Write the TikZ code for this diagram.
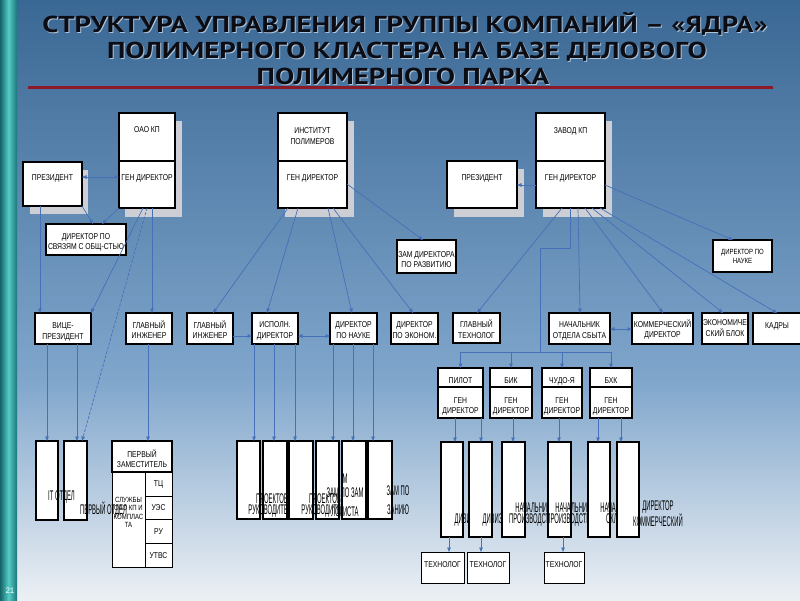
\documentclass[tikz,border=0pt]{standalone}
\usepackage{fontspec}
\setmainfont{Liberation Sans}
\newfontfamily\boxfnt[FakeStretch=0.8]{Liberation Sans}
\newfontfamily\tallfnt[FakeStretch=0.42]{Liberation Sans}
\newfontfamily\titlefnt{PT Sans}
\usetikzlibrary{arrows.meta,calc}
\definecolor{connc}{RGB}{70,112,185}
\definecolor{bgA}{RGB}{58,104,148}
\definecolor{bgB}{RGB}{128,166,204}
\definecolor{bgC}{RGB}{236,240,244}
\definecolor{barL}{RGB}{20,100,105}
\definecolor{barM}{RGB}{85,205,198}
\definecolor{barR}{RGB}{25,118,122}
\definecolor{redline}{RGB}{140,25,40}
\definecolor{shadc}{RGB}{205,207,212}
\definecolor{ttlc}{RGB}{12,12,20}
\definecolor{ttls}{RGB}{175,195,215}
\newcommand\tx[2]{\makebox[0pt]{\raisebox{#1}[0pt][0pt]{\begin{tabular}{@{}c@{}}#2\end{tabular}}}}
\begin{document}
\begin{tikzpicture}[x=1pt,y=-1pt,
  box/.style={draw=black,line width=1.3pt,fill=white,inner sep=0pt,outer sep=0pt,
    font=\boxfnt\fontsize{8.5}{10.5}\selectfont},
  sz/.style 2 args={minimum width=#1pt,minimum height=#2pt},
  tall/.style={draw=black,line width=1.3pt,fill=white,inner sep=0pt,outer sep=0pt},
  talltxt/.style={inner sep=0pt,align=center,font=\tallfnt\fontsize{14}{11}\selectfont},
  shad/.style={fill=shadc},
  conn/.style={draw=connc,line width=0.7pt},
  arr/.style={conn,-{Triangle[length=4.5pt,width=3.5pt]}},
  darr/.style={conn,{Triangle[length=4.5pt,width=3.5pt]}-{Triangle[length=4.5pt,width=3.5pt]}},
  ttl/.style={anchor=base,inner sep=0pt,text=ttlc,font=\titlefnt\bfseries\fontsize{23}{26}\selectfont},
  ttlsh/.style={ttl,text=ttls}
]
\useasboundingbox (0,0) rectangle (800,600);
% background
\shade[top color=bgA,bottom color=bgB] (0,0) rectangle (800,381);
\shade[top color=bgB,bottom color=bgC] (0,380) rectangle (800,600);
\shade[left color=barL,right color=barR,middle color=barM] (0,0) rectangle (17,600);
\node[text=white,font=\fontsize{8}{8}\selectfont,inner sep=0pt] (pg) at (10,591) {21};

% title
\node[ttlsh] (tt1s) at (406,33.2) {\scalebox{1.25}[1]{СТРУКТУРА УПРАВЛЕНИЯ ГРУППЫ КОМПАНИЙ – «ЯДРА»}};
\node[ttlsh] (tt2s) at (408,59.2) {\scalebox{1.25}[1]{ПОЛИМЕРНОГО КЛАСТЕРА НА БАЗЕ ДЕЛОВОГО}};
\node[ttlsh] (tt3s) at (404,85.2) {\scalebox{1.25}[1]{ПОЛИМЕРНОГО ПАРКА}};
\node[ttl] (tt1) at (405,32) {\scalebox{1.25}[1]{СТРУКТУРА УПРАВЛЕНИЯ ГРУППЫ КОМПАНИЙ – «ЯДРА»}};
\node[ttl] (tt2) at (407,58) {\scalebox{1.25}[1]{ПОЛИМЕРНОГО КЛАСТЕРА НА БАЗЕ ДЕЛОВОГО}};
\node[ttl] (tt3) at (403,84) {\scalebox{1.25}[1]{ПОЛИМЕРНОГО ПАРКА}};
\draw[redline,line width=3pt] (28,87) -- (773,87);

% shadows of top boxes
\fill[shad] (125,121) rectangle (182,217);
\fill[shad] (30,170) rectangle (88,214);
\fill[shad] (285,121) rectangle (354,217);
\fill[shad] (454,169) rectangle (524,217);
\fill[shad] (543,121) rectangle (612,217);

% top level
\node[box,sz={56}{48}] (oao) at (147,137) {\tx{5pt}{ОАО КП}};
\node[box,sz={56}{47}] (oaoG) at (147,184.5) {\tx{4.5pt}{ГЕН ДИРЕКТОР}};
\node[box,sz={59}{44}] (pres1) at (52.5,184) {\tx{4pt}{ПРЕЗИДЕНТ}};
\node[box,sz={80}{31}] (svyaz) at (86,239.5) {\tx{-5pt}{ДИРЕКТОР ПО\\СВЯЗЯМ С ОБЩ-СТЬЮ}};
\node[box,sz={69}{48}] (inst) at (312.5,137) {\tx{-2pt}{ИНСТИТУТ\\ПОЛИМЕРОВ}};
\node[box,sz={69}{47}] (instG) at (312.5,184.5) {\tx{4.5pt}{ГЕН ДИРЕКТОР}};
\node[box,sz={70}{47}] (pres2) at (482,184.5) {\tx{4.5pt}{ПРЕЗИДЕНТ}};
\node[box,sz={69}{48}] (zavod) at (570.5,137) {\tx{4pt}{ЗАВОД КП}};
\node[box,sz={69}{47}] (zavG) at (570.5,184.5) {\tx{4.5pt}{ГЕН ДИРЕКТОР}};
\node[box,sz={59}{33}] (zamdev) at (426.5,256.5) {\tx{-6pt}{ЗАМ ДИРЕКТОРА\\ПО РАЗВИТИЮ}};
\node[box,sz={59}{32},font=\boxfnt\fontsize{7.5}{9.5}\selectfont] (nauka1) at (742.5,256) {\tx{-3pt}{ДИРЕКТОР ПО\\НАУКЕ}};

% second row
\node[box,sz={56}{31}] (vice) at (63,328.5) {\tx{-5.5pt}{ВИЦЕ-\\ПРЕЗИДЕНТ}};
\node[box,sz={46}{31}] (gi1) at (149,328.5) {\tx{-4.5pt}{ГЛАВНЫЙ\\ИНЖЕНЕР}};
\node[box,sz={46}{31}] (gi2) at (210,328.5) {\tx{-4.5pt}{ГЛАВНЫЙ\\ИНЖЕНЕР}};
\node[box,sz={46}{31}] (ispoln) at (275,328.5) {\tx{-4.5pt}{ИСПОЛН.\\ДИРЕКТОР}};
\node[box,sz={47}{31}] (dnauka) at (353.5,328.5) {\tx{-4.5pt}{ДИРЕКТОР\\ПО НАУКЕ}};
\node[box,sz={47}{31}] (decon) at (414.5,328.5) {\tx{-4.5pt}{ДИРЕКТОР\\ПО ЭКОНОМ.}};
\node[box,sz={47}{30}] (gtech) at (476.5,328) {\tx{-4.5pt}{ГЛАВНЫЙ\\ТЕХНОЛОГ}};
\node[box,sz={61}{31}] (nach) at (579.5,328.5) {\tx{-4.5pt}{НАЧАЛЬНИК\\ОТДЕЛА СБЫТА}};
\node[box,sz={61}{31}] (komm) at (662.5,328.5) {\tx{-3.5pt}{КОММЕРЧЕСКИЙ\\ДИРЕКТОР}};
\node[box,sz={46}{31}] (econ) at (725,328.5) {\tx{-2.5pt}{ЭКОНОМИЧЕ\\СКИЙ БЛОК}};
\node[box,sz={48}{31}] (kadry) at (777,328.5) {\tx{0.5pt}{КАДРЫ}};

% third row
\node[box,sz={45}{19}] (pilotH) at (460.5,377.5) {\tx{-5.5pt}{ПИЛОТ}};
\node[box,sz={45}{31}] (pilotB) at (460.5,402.5) {\tx{-6pt}{ГЕН\\ДИРЕКТОР}};
\node[box,sz={42}{19}] (bikH) at (511,377.5) {\tx{-5.5pt}{БИК}};
\node[box,sz={42}{31}] (bikB) at (511,402.5) {\tx{-6pt}{ГЕН\\ДИРЕКТОР}};
\node[box,sz={40}{19}] (chudoH) at (562,377.5) {\tx{-5.5pt}{ЧУДО-Я}};
\node[box,sz={40}{31}] (chudoB) at (562,402.5) {\tx{-6pt}{ГЕН\\ДИРЕКТОР}};
\node[box,sz={42}{19}] (bhkH) at (611,377.5) {\tx{-5.5pt}{БХК}};
\node[box,sz={42}{31}] (bhkB) at (611,402.5) {\tx{-6pt}{ГЕН\\ДИРЕКТОР}};

% left group
\node[tall,sz={22}{79}] (it) at (47,480.5) {};
\node[tall,sz={23}{79}] (perv) at (75.5,480.5) {};
\node[box,sz={60}{31}] (zam1) at (142,456.5) {\tx{-5.5pt}{ПЕРВЫЙ\\ЗАМЕСТИТЕЛЬ}};
\node[box,sz={33}{95},line width=0.9pt,font=\boxfnt\fontsize{7.5}{8.5}\selectfont] (sluzh) at (128.5,519.5) {\tx{4.5pt}{СЛУЖБЫ\\ОАО КП И\\КОМПЛАС\\ТА}};
\node[box,sz={27}{24},line width=0.9pt] (tc) at (158.5,484) {\tx{-2pt}{ТЦ}};
\node[box,sz={27}{23},line width=0.9pt] (ues) at (158.5,507.5) {\tx{-2.5pt}{УЭС}};
\node[box,sz={27}{24},line width=0.9pt] (ru) at (158.5,531) {\tx{-3pt}{РУ}};
\node[box,sz={27}{24},line width=0.9pt] (utvs) at (158.5,555) {\tx{-3pt}{УТВС}};
\node[talltxt] (itT) at (61.5,497) {IT ОТДЕЛ};
\node[talltxt] (pervT) at (103.5,510) {ПЕРВЫЙ ОТДЕЛ};

% middle group
\node[tall,sz={23}{78}] (m1) at (248.5,480) {};
\node[tall,sz={24}{78}] (m2) at (275,480) {};
\node[talltxt] (m2T) at (272,505.5) {ПРОЕКТОВ\\РУКОВОДИТЕЛЬ};
\node[tall,sz={24}{78}] (m3) at (301,480) {};
\node[tall,sz={23}{78}] (m4) at (327.5,480) {};
\node[talltxt] (m4T) at (325,505.5) {ПРОЕКТОВ\\РУКОВОДИТЕЛЬ};
\node[tall,sz={24}{78}] (m5) at (354,480) {};
\node[talltxt] (m5T) at (345,495) {М\\[3pt]ЗАМ ПО ЗАМ\\[8pt]ЛОГИСТА};
\node[tall,sz={24}{78}] (m6) at (380,480) {};
\node[talltxt] (m6T) at (398,500.5) {ЗАМ ПО\\[8pt]ЗАНИЮ};

% right group
\node[tall,sz={22}{95}] (r1) at (452,489.5) {};
\node[talltxt] (r1T) at (471,520) {ДИВИЗИОН};
\node[tall,sz={23}{95}] (r2) at (480.5,489.5) {};
\node[talltxt] (r2T) at (499,520) {ДИВИЗИОН};
\node[tall,sz={23}{95}] (r3) at (513.5,489.5) {};
\node[talltxt] (r3T) at (533,515) {НАЧАЛЬНИК\\ПРОИЗВОДСТВА};
\node[tall,sz={23}{95}] (r4) at (559.5,489.5) {};
\node[talltxt] (r4T) at (573,515) {НАЧАЛЬНИК\\ПРОИЗВОДСТВОМ};
\node[tall,sz={22}{95}] (r5) at (599,489.5) {};
\node[talltxt] (r5T) at (618,515) {НАЧАЛЬНИК\\СКЛАДА};
\node[tall,sz={22}{95}] (r6) at (628,489.5) {};
\node[talltxt] (r6T) at (658,513.5) {ДИРЕКТОР\\КОММЕРЧЕСКИЙ};

% technologists
\node[box,sz={43}{31},line width=0.9pt] (t1) at (442.5,567.5) {\tx{0.5pt}{ТЕХНОЛОГ}};
\node[box,sz={42}{31},line width=0.9pt] (t2) at (488,567.5) {\tx{0.5pt}{ТЕХНОЛОГ}};
\node[box,sz={40}{31},line width=0.9pt] (t3) at (564,567.5) {\tx{0.5pt}{ТЕХНОЛОГ}};

% connectors
\draw[darr] (pres1.east |- 0,177) -- (oaoG.west |- 0,177);
\draw[arr] (pres1.south east) -- (svyaz.north -| 93,0);
\draw[arr] (oaoG.south west) -- (svyaz.north -| 102,0);
\draw[arr] (pres1.south -| 40,0) -- (vice.north -| 40,0);
\draw[arr] (oaoG.south -| 143,0) -- (vice.north east);
\draw[arr,dash pattern=on 3pt off 1.5pt] (oaoG.south -| 147,0) -- (perv.north -| 82,0);
\draw[arr] (oaoG.south -| 152,0) -- (gi1.north -| 152,0);
\draw[arr] (instG.south -| 288,0) -- (gi2.north -| 213,0);
\draw[arr] (instG.south -| 298,0) -- (ispoln.north -| 267,0);
\draw[arr] (instG.south -| 328,0) -- (dnauka.north -| 352,0);
\draw[arr] (instG.south -| 333,0) -- (decon.north -| 413,0);
\draw[arr] (instG.east |- 0,184) -- (zamdev.north -| 423,0);
\draw[arr] (zavG.west |- 0,185) -- (pres2.east |- 0,185);
\draw[arr] (zavG.east |- 0,185) -- (nauka1.north -| 733,0);
\draw[arr] (zavG.south -| 562,0) -- (gtech.north -| 477,0);
\coordinate (bend) at (540,248);
\coordinate (jn) at (540,352);
\draw[conn] (zavG.south -| 570,0) |- (bend) -- (jn);
\draw[arr] (jn) -| (pilotH.north);
\draw[arr] (jn) -| (bikH.north);
\draw[arr] (jn) -| (chudoH.north);
\draw[arr] (jn) -| (bhkH.north);
\draw[arr] (zavG.south -| 578,0) -- (nach.north -| 580,0);
\draw[arr] (zavG.south -| 585,0) -- (komm.north -| 663,0);
\draw[arr] (zavG.south -| 592,0) -- (econ.north -| 723,0);
\draw[arr] (zavG.south -| 600,0) -- (kadry.north -| 777,0);
\draw[arr] (gi2.east |- 0,336) -- (ispoln.west |- 0,336);
\draw[darr] (ispoln.east |- 0,336) -- (dnauka.west |- 0,336);
\draw[darr] (nach.east |- 0,329) -- (komm.west |- 0,329);
\draw[arr] (vice.south -| 47,0) -- (it.north -| 47,0);
\draw[arr] (vice.south -| 77,0) -- (perv.north -| 77,0);
\draw[arr] (gi1.south -| 148,0) -- (zam1.north -| 148,0);
\draw[arr] (ispoln.south -| 254,0) -- (m1.north -| 254,0);
\draw[arr] (ispoln.south -| 274,0) -- (m2.north -| 274,0);
\draw[arr] (ispoln.south -| 295,0) -- (m3.north -| 295,0);
\draw[arr] (dnauka.south -| 333,0) -- (m4.north -| 333,0);
\draw[arr] (dnauka.south -| 353,0) -- (m5.north -| 353,0);
\draw[arr] (dnauka.south -| 373,0) -- (m6.north -| 373,0);
\draw[arr] (pilotB.south -| 455,0) -- (r1.north -| 455,0);
\draw[arr] (pilotB.south -| 481,0) -- (r2.north -| 481,0);
\draw[arr] (bikB.south -| 513,0) -- (r3.north -| 513,0);
\draw[arr] (chudoB.south -| 559,0) -- (r4.north -| 559,0);
\draw[arr] (bhkB.south -| 598,0) -- (r5.north -| 598,0);
\draw[arr] (bhkB.south -| 621,0) -- (r6.north -| 621,0);
\draw[arr] (r1.south -| 449,0) -- (t1.north -| 449,0);
\draw[arr] (r2.south -| 481,0) -- (t2.north -| 481,0);
\draw[arr] (r4.south -| 563,0) -- (t3.north -| 563,0);
\end{tikzpicture}
\end{document}
